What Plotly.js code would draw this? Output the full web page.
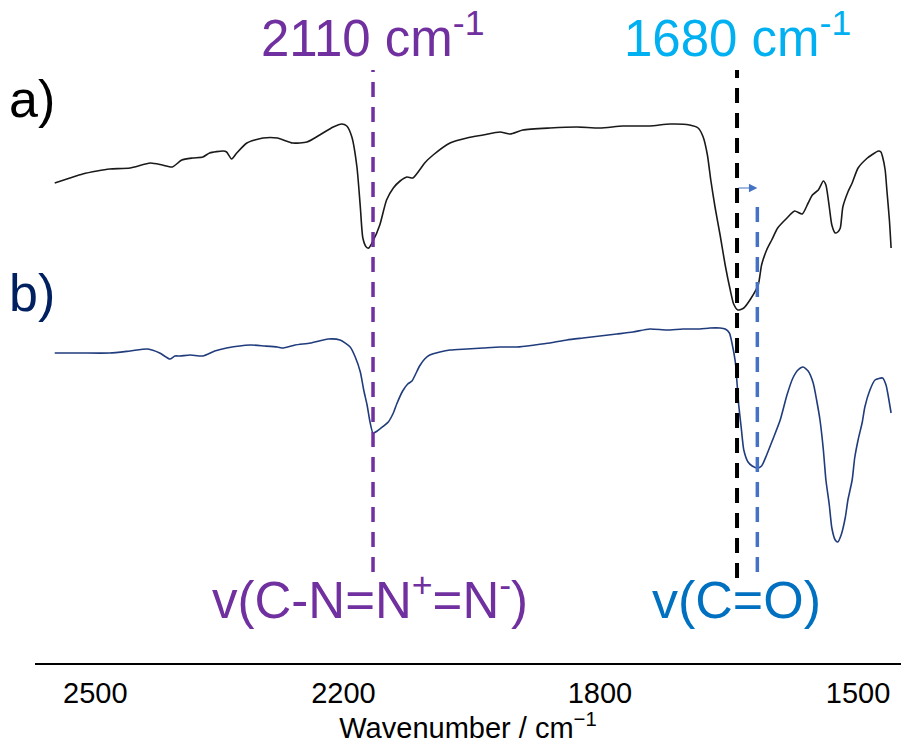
<!DOCTYPE html>
<html>
<head>
<meta charset="utf-8">
<script src="https://cdn.plot.ly/plotly-3.0.1.min.js"></script>
<style>html,body{margin:0;padding:0;background:#fff;}#chart{width:901px;height:744px;}</style>
</head>
<body>
<div id="chart"></div>
<script>
// Spectrum a) : wavenumber (cm-1) and offset transmittance (a.u.)
const waveA = [2486,2468,2453,2436,2421,2397,2373,2359,2347,2336,2323,2311,2303,2287,2283,2277,2271,2259,2240,2223,2205,2188,2173,2157,2147,2141,2135,2129,2125,2122,2118,2115,2110,2102,2094,2086,2078,2070,2063,2055,2049,2039,2019,1999,1980,1960,1948,1933,1901,1869,1842,1815,1783,1759,1736,1726,1720,1715,1711,1706,1700,1694,1688,1684,1679,1672,1664,1655,1651,1645,1639,1632,1621,1612,1603,1596,1591,1584,1578,1575,1571,1568,1564,1561,1558,1555,1549,1544,1537,1526,1521,1513,1510,1508,1505,1503,1500,1498];
const transA = [48.0,48.5,48.9,49.2,49.4,49.5,50.0,49.8,49.6,50.3,50.5,50.6,51.0,51.2,51.1,50.4,51.0,52.0,52.5,52.5,52.0,52.1,52.8,53.6,53.9,53.7,52.6,49.6,45.6,42.5,41.6,41.5,42.2,43.8,46.3,47.5,48.2,48.6,48.5,49.3,50.0,50.8,52.0,52.5,52.8,53.1,52.9,53.3,53.5,53.6,53.5,53.7,53.7,53.9,53.8,53.5,52.6,50.8,48.3,45.6,42.8,39.8,37.3,35.9,35.3,35.5,36.4,37.8,39.8,41.3,42.3,43.5,44.5,45.2,44.9,46.0,46.8,47.3,48.2,47.8,45.6,43.8,43.0,43.1,43.5,45.6,47.1,48.0,49.5,50.5,50.8,51.2,51.1,50.6,49.3,47.3,44.3,41.5];

// Spectrum b)
const waveB = [2486,2456,2421,2397,2376,2362,2350,2344,2338,2326,2311,2297,2283,2255,2238,2223,2216,2202,2184,2163,2149,2137,2131,2125,2121,2117,2114,2110,2105,2102,2092,2086,2082,2075,2069,2064,2055,2049,2043,2031,2019,1999,1980,1960,1940,1919,1901,1881,1862,1842,1822,1803,1783,1763,1744,1724,1712,1700,1694,1689,1686,1682,1680,1678,1675,1672,1667,1662,1656,1651,1645,1638,1629,1621,1614,1608,1602,1596,1590,1586,1582,1578,1575,1571,1568,1564,1561,1557,1552,1549,1544,1541,1537,1532,1529,1523,1517,1508,1504,1502,1498];
const transB = [31.0,31.0,31.0,31.2,31.4,31.0,30.4,30.7,30.7,30.8,30.7,31.2,31.5,31.8,31.7,31.6,31.5,31.8,32.0,32.4,32.3,31.6,30.6,29.1,27.3,25.8,24.3,23.0,23.2,23.4,24.1,25.0,25.9,27.2,27.9,28.2,29.7,30.4,30.8,31.1,31.3,31.4,31.5,31.6,31.6,31.8,32.0,32.3,32.5,32.7,32.9,33.1,33.4,33.3,33.4,33.4,33.5,33.5,33.4,33.0,32.0,30.1,28.0,25.8,23.5,21.3,20.1,19.7,19.5,19.7,20.8,22.3,24.3,26.8,28.5,29.3,29.6,29.2,28.0,26.3,24.3,21.3,18.3,15.8,13.5,12.3,12.1,12.8,14.6,16.3,18.3,20.5,22.3,24.1,25.6,27.3,28.3,28.5,27.8,27.0,25.0];

// Marked bands (cm-1)
const bandAzide = 2110;
const bandCO = 1680;
const bandCOShifted = 1656;

// Axis tick labels as printed in the original figure, and where they sit on the axis
const tickLabels = ['2500', '2200', '1800', '1500'];
const tickPositions = [2438, 2145, 1842, 1537];

const purple = '#7030A0';
const cyan = '#00B0F0';
const blueText = '#0070C0';
const dashBlue = '#4472C4';
const navy = '#203C7C';

const FONT = 'Arial, "Liberation Sans", sans-serif';

const traces = [
  {x: waveA, y: transA, type: 'scatter', mode: 'lines', line: {color: '#1a1a1a', width: 1.6, shape: 'spline', smoothing: 0.6}, hoverinfo: 'skip'},
  {x: waveB, y: transB, type: 'scatter', mode: 'lines', line: {color: navy, width: 1.6, shape: 'spline', smoothing: 0.6}, hoverinfo: 'skip'}
];

const layout = {
  width: 901, height: 744,
  margin: {l: 35, r: 0, t: 0, b: 81},
  paper_bgcolor: '#fff', plot_bgcolor: '#fff',
  showlegend: false,
  xaxis: {
    range: [2509.3, 1486.3],
    showgrid: false, zeroline: false,
    showline: true, linecolor: '#000', linewidth: 2,
    ticks: 'outside', ticklen: 3, tickcolor: 'rgba(0,0,0,0)',
    tickvals: tickPositions, ticktext: tickLabels,
    tickfont: {family: FONT, size: 29, color: '#000'},
    title: {text: 'Wavenumber / cm<sup>\u22121</sup>', font: {family: FONT, size: 29, color: '#000'}, standoff: 0},
    automargin: false, fixedrange: true
  },
  yaxis: {range: [0, 66.3], visible: false, showgrid: false, zeroline: false, fixedrange: true},
  shapes: [
    {type: 'line', x0: bandAzide, x1: bandAzide, y0: 9.1, y1: 59.3, xref: 'x', yref: 'y', line: {color: purple, width: 3.5, dash: '15px,10px'}},
    {type: 'line', x0: bandCO, x1: bandCO, y0: 8.5, y1: 59.3, xref: 'x', yref: 'y', line: {color: '#000', width: 4, dash: '15px,10px'}},
    {type: 'line', x0: bandCOShifted, x1: bandCOShifted, y0: 9.1, y1: 46.5, xref: 'x', yref: 'y', line: {color: dashBlue, width: 3.5, dash: '15px,10px'}}
  ],
  annotations: [
    {x: bandAzide, y: 62.8, xref: 'x', yref: 'y', xanchor: 'center', text: '2110 cm<sup>-1</sup>', showarrow: false, font: {family: FONT, size: 51, color: purple}},
    {x: bandCO, y: 62.8, xref: 'x', yref: 'y', xanchor: 'center', text: '1680 cm<sup>-1</sup>', showarrow: false, font: {family: FONT, size: 51, color: cyan}},
    {x: -0.004, y: 56.4, xref: 'paper', yref: 'y', xanchor: 'center', text: 'a)', showarrow: false, font: {family: FONT, size: 52, color: '#000'}},
    {x: -0.004, y: 37.0, xref: 'paper', yref: 'y', xanchor: 'center', text: 'b)', showarrow: false, font: {family: FONT, size: 52, color: '#002060'}},
    {x: 2113, y: 6.6, xref: 'x', yref: 'y', xanchor: 'center', text: 'v(C-N=N<sup>+</sup>=N<sup>-</sup>)', showarrow: false, font: {family: FONT, size: 51, color: purple}},
    {x: 1681, y: 6.3, xref: 'x', yref: 'y', xanchor: 'center', text: 'v(C=O)', showarrow: false, font: {family: FONT, size: 52, color: blueText}},
    {x: bandCOShifted, y: 47.5, ax: bandCO, ay: 47.5, xref: 'x', yref: 'y', axref: 'x', ayref: 'y', text: '', showarrow: true, arrowhead: 2, arrowsize: 1.4, arrowwidth: 1.2, arrowcolor: dashBlue, standoff: 0, startstandoff: 0}
  ]
};

Plotly.newPlot('chart', traces, layout, {staticPlot: true, displayModeBar: false});
</script>
</body>
</html>
